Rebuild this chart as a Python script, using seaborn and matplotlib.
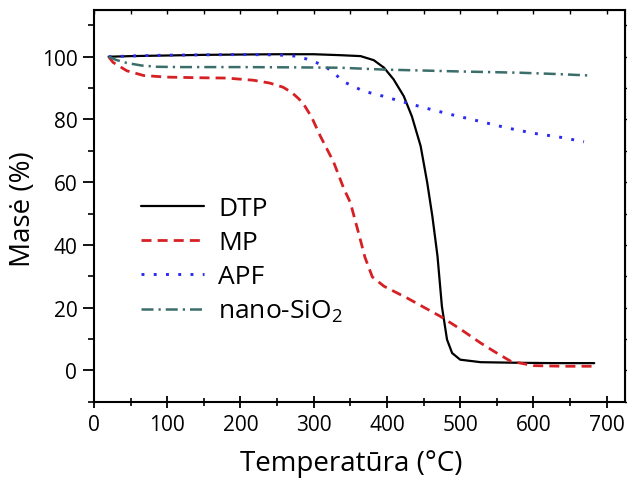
import numpy as np
import pandas as pd
import matplotlib
matplotlib.use("Agg")
import matplotlib.pyplot as plt
from matplotlib.ticker import MultipleLocator
import seaborn as sns

# Thermogravimetric curves: temperature (°C) vs. remaining mass (%)
dtp_t = [20, 50, 100, 150, 200, 250, 300, 336, 364, 382, 396, 409, 423, 434, 446,
         455, 462, 469, 475, 482, 489, 500, 528, 582, 630, 683]
dtp_m = [100, 100.2, 100.4, 100.6, 100.7, 100.8, 100.8, 100.5, 100.2, 98.9, 96.5,
         92.8, 87.4, 81.0, 71.5, 59.8, 49.1, 36.4, 20.4, 9.8, 5.5, 3.4, 2.6, 2.4,
         2.3, 2.3]

mp_t = [20, 26, 45, 68, 100, 145, 181, 218, 240, 258, 270, 280, 288, 297, 309,
        327, 341, 350, 361, 370, 380, 396, 428, 473, 500, 528, 550, 569, 600,
        640, 683]
mp_m = [100, 98.2, 95.5, 94.0, 93.5, 93.3, 93.2, 92.5, 91.6, 90.3, 88.6, 86.5,
        84.2, 80.8, 74.7, 66.5, 58.0, 53.5, 44.0, 36.0, 29.8, 26.8, 23.0, 17.2,
        13.2, 8.7, 5.5, 2.9, 1.5, 1.3, 1.3]

apf_t = [20, 60, 100, 150, 200, 250, 275, 290, 304, 318, 330, 341, 354, 368, 386,
         416, 450, 487, 525, 564, 600, 635, 669]
apf_m = [100, 100.3, 100.5, 100.6, 100.7, 100.6, 100.2, 99.3, 98.1, 96.5, 94.3,
         92.0, 90.6, 89.0, 88.0, 86.0, 83.8, 81.6, 79.5, 77.3, 75.6, 74.4, 72.9]

sio2_t = [20, 30, 45, 65, 86, 120, 200, 282, 336, 396, 450, 500, 582, 630, 678]
sio2_m = [100, 99.0, 98.0, 97.2, 96.8, 96.7, 96.7, 96.6, 96.5, 95.9, 95.6, 95.3,
          94.9, 94.5, 94.0]

series_names = ["DTP", "MP", "APF", "nano-SiO$_2$"]

x_ticks = [0, 100, 200, 300, 400, 500, 600, 700]
y_ticks = [0, 20, 40, 60, 80, 100]

sns.set_style("ticks")
plt.rcParams["font.family"] = ["Open Sans", "DejaVu Sans"]
plt.rcParams["mathtext.default"] = "regular"
plt.rcParams["text.color"] = "black"
plt.rcParams["axes.labelcolor"] = "black"
plt.rcParams["xtick.color"] = "black"
plt.rcParams["ytick.color"] = "black"

frames = []
for name, t, m in zip(series_names, [dtp_t, mp_t, apf_t, sio2_t],
                      [dtp_m, mp_m, apf_m, sio2_m]):
    frames.append(pd.DataFrame({"T": t, "M": m, "sample": name}))
df = pd.concat(frames, ignore_index=True)

styles = {
    "DTP": dict(color="#000000", lw=1.6, ls="-"),
    "MP": dict(color="#d62024", lw=2.0, ls=(0, (3.6, 2.2))),
    "APF": dict(color="#2a2af0", lw=2.1, ls=(0, (1, 3.2))),
    "nano-SiO$_2$": dict(color="#3b6e6a", lw=1.8, ls=(0, (4.8, 2.0, 0.9, 2.0))),
}

fig = plt.figure(figsize=(6.27, 4.81), dpi=100)
ax = fig.add_axes([94 / 627, 78.3 / 481, 531 / 627, 392 / 481])

for name in series_names:
    sub = df[df["sample"] == name]
    st = styles[name]
    sns.lineplot(data=sub, x="T", y="M", ax=ax, color=st["color"],
                 linewidth=st["lw"], linestyle=st["ls"], label=name,
                 sort=False, estimator=None)

ax.set_xlim(0, 725)
ax.set_ylim(-10, 115)
ax.set_xticks(x_ticks)
ax.set_yticks(y_ticks)
ax.xaxis.set_minor_locator(MultipleLocator(50))
ax.yaxis.set_minor_locator(MultipleLocator(10))

for sp in ax.spines.values():
    sp.set_linewidth(1.5)
    sp.set_color("black")

ax.tick_params(axis="x", which="major", direction="inout", length=9, width=1.3,
               labelsize=15, pad=4)
ax.tick_params(axis="x", which="minor", direction="inout", length=6, width=1.2)
ax.tick_params(axis="y", which="major", direction="out", length=8, width=1.3,
               labelsize=15, pad=4)
ax.tick_params(axis="y", which="minor", direction="out", length=4.5, width=1.2)

# Small tick marks on the top and right frame
top = ax.secondary_xaxis("top")
top.set_xticks(np.arange(0, 726, 50))
top.tick_params(direction="in", length=3, width=1.0, labeltop=False)
top.set_xticklabels([])
right = ax.secondary_yaxis("right")
right.set_yticks(np.arange(-10, 116, 10))
right.tick_params(direction="out", length=3, width=1.0, labelright=False)
right.set_yticklabels([])

ax.set_xlabel("Temperatūra (°C)", fontsize=20)
ax.set_ylabel("Masė (%)", fontsize=20)
ax.xaxis.set_label_coords(0.484, -0.12)
ax.yaxis.set_label_coords(-0.108, 0.495)

leg = ax.legend(loc="upper left", bbox_to_anchor=(0.088, 0.525), frameon=False,
                fontsize=19, handlelength=2.4, handletextpad=0.53,
                labelspacing=0.34, borderpad=0, borderaxespad=0)

fig.savefig("out.png", dpi=100)
